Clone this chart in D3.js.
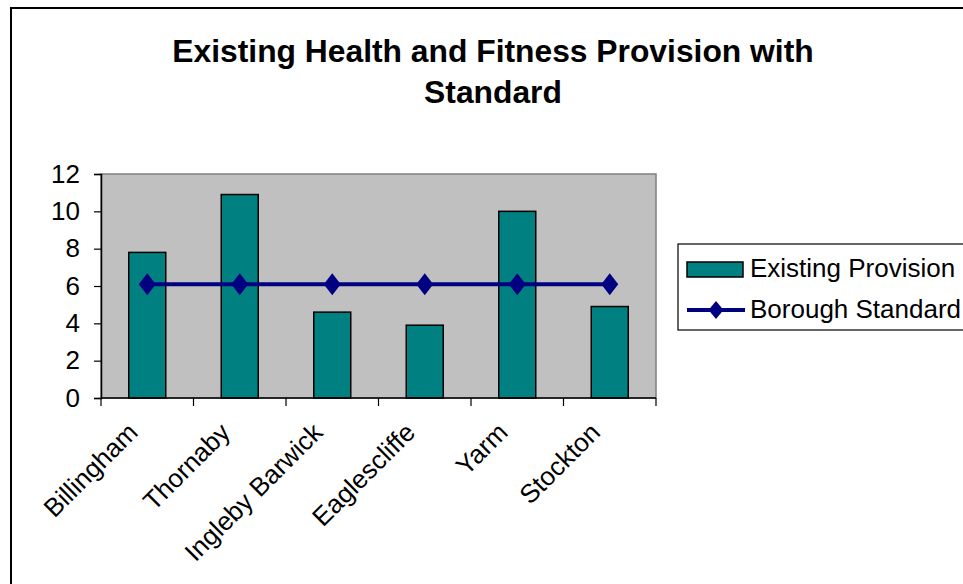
<!DOCTYPE html>
<html>
<head>
<meta charset="utf-8">
<script src="https://cdn.jsdelivr.net/npm/d3@7"></script>
<style>
  html, body { margin: 0; padding: 0; background: #fff; }
  svg { display: block; font-family: "Liberation Sans", Arial, sans-serif; }
</style>
</head>
<body>
<svg id="chart" width="963" height="584"></svg>
<script>
// Chart data
const categories = ["Billingham", "Thornaby", "Ingleby Barwick", "Eaglescliffe", "Yarm", "Stockton"];
const existingProvision = [7.8, 10.9, 4.6, 3.9, 10.0, 4.9];
const boroughStandard = [6.1, 6.1, 6.1, 6.1, 6.1, 6.1];
const yTicks = [0, 2, 4, 6, 8, 10, 12];
const titleLines = ["Existing Health and Fitness Provision with", "Standard"];
const seriesNames = ["Existing Provision", "Borough Standard"];

const svg = d3.select("#chart");
const W = 963, H = 584;

const teal = "#008080", navy = "#000080";
const plot = { left: 101, right: 656, top: 174, bottom: 398 };

// tall diamond marker (half-width, half-height)
const tallDiamond = (hw, hh) => ({
  draw(ctx) {
    ctx.moveTo(0, -hh); ctx.lineTo(hw, 0); ctx.lineTo(0, hh); ctx.lineTo(-hw, 0); ctx.closePath();
  }
});

// outer chart frame
svg.append("rect")
  .attr("x", 11).attr("y", 8)
  .attr("width", W + 20).attr("height", H + 20)
  .attr("fill", "#fff").attr("stroke", "#000").attr("stroke-width", 2);

// title
svg.append("g").selectAll("text").data(titleLines).join("text")
  .attr("x", 493).attr("y", (d, i) => 62 + i * 41)
  .attr("text-anchor", "middle")
  .attr("font-size", 31.8).attr("font-weight", "bold")
  .text(d => d);

const x = d3.scaleBand().domain(categories).range([plot.left, plot.right]).paddingInner(0).paddingOuter(0);
const y = d3.scaleLinear().domain([0, 12]).range([plot.bottom, plot.top]);

// plot background
svg.append("rect")
  .attr("x", plot.left).attr("y", plot.top)
  .attr("width", plot.right - plot.left).attr("height", plot.bottom - plot.top)
  .attr("fill", "#c0c0c0").attr("stroke", "#808080").attr("stroke-width", 1.5);

// bars
const barW = x.bandwidth() * 0.4;
svg.append("g").selectAll("rect").data(existingProvision).join("rect")
  .attr("x", (d, i) => x(categories[i]) + (x.bandwidth() - barW) / 2)
  .attr("y", d => y(d))
  .attr("width", barW)
  .attr("height", d => y(0) - y(d))
  .attr("fill", teal).attr("stroke", "#000").attr("stroke-width", 1.5);

// y axis
const yAxis = svg.append("g")
  .attr("transform", `translate(${plot.left},0)`)
  .call(d3.axisLeft(y).tickValues(yTicks).tickSize(7).tickPadding(14).tickFormat(d3.format("d")));
yAxis.select(".domain").attr("stroke", "#000").attr("stroke-width", 1.5);
yAxis.selectAll(".tick line").attr("stroke", "#000").attr("stroke-width", 1.2);
yAxis.selectAll(".tick text").attr("font-size", 26).attr("fill", "#000")
  .attr("font-family", "Liberation Sans, Arial, sans-serif");

// x axis with ticks on band boundaries
const xAxisG = svg.append("g").attr("transform", `translate(0,${plot.bottom})`);
xAxisG.append("line").attr("x1", plot.left).attr("x2", plot.right)
  .attr("stroke", "#000").attr("stroke-width", 1.5);
const bounds = categories.map(c => x(c)).concat([plot.right]);
xAxisG.selectAll("line.tk").data(bounds).join("line").attr("class", "tk")
  .attr("x1", d => d).attr("x2", d => d).attr("y1", 0).attr("y2", 8)
  .attr("stroke", "#000").attr("stroke-width", 1.2);
xAxisG.selectAll("text").data(categories).join("text")
  .attr("transform", d => `translate(${x(d) + x.bandwidth() / 2 - 8},${36}) rotate(-45)`)
  .attr("text-anchor", "end")
  .attr("font-size", 26)
  .text(d => d);

// borough standard line with diamond markers
const line = d3.line()
  .x((d, i) => x(categories[i]) + x.bandwidth() / 2)
  .y(d => y(d));
svg.append("path").datum(boroughStandard)
  .attr("d", line).attr("fill", "none").attr("stroke", navy).attr("stroke-width", 4);
const diamond = d3.symbol().type(tallDiamond(8.5, 11));
svg.append("g").selectAll("path").data(boroughStandard).join("path")
  .attr("transform", (d, i) => `translate(${x(categories[i]) + x.bandwidth() / 2},${y(d)})`)
  .attr("d", diamond).attr("fill", navy);

// legend
const lg = svg.append("g");
lg.append("rect").attr("x", 678).attr("y", 244).attr("width", 320).attr("height", 86)
  .attr("fill", "#fff").attr("stroke", "#000").attr("stroke-width", 1.2);
lg.append("rect").attr("x", 687).attr("y", 262).attr("width", 56).attr("height", 15)
  .attr("fill", teal).attr("stroke", "#000").attr("stroke-width", 1.5);
lg.append("line").attr("x1", 687).attr("x2", 745).attr("y1", 310).attr("y2", 310)
  .attr("stroke", navy).attr("stroke-width", 4);
lg.append("path").attr("transform", "translate(716,310)")
  .attr("d", d3.symbol().type(tallDiamond(7.5, 9))).attr("fill", navy);
lg.selectAll("text").data(seriesNames).join("text")
  .attr("x", 750).attr("y", (d, i) => 277 + i * 41)
  .attr("font-size", 26)
  .text(d => d);
</script>
</body>
</html>
